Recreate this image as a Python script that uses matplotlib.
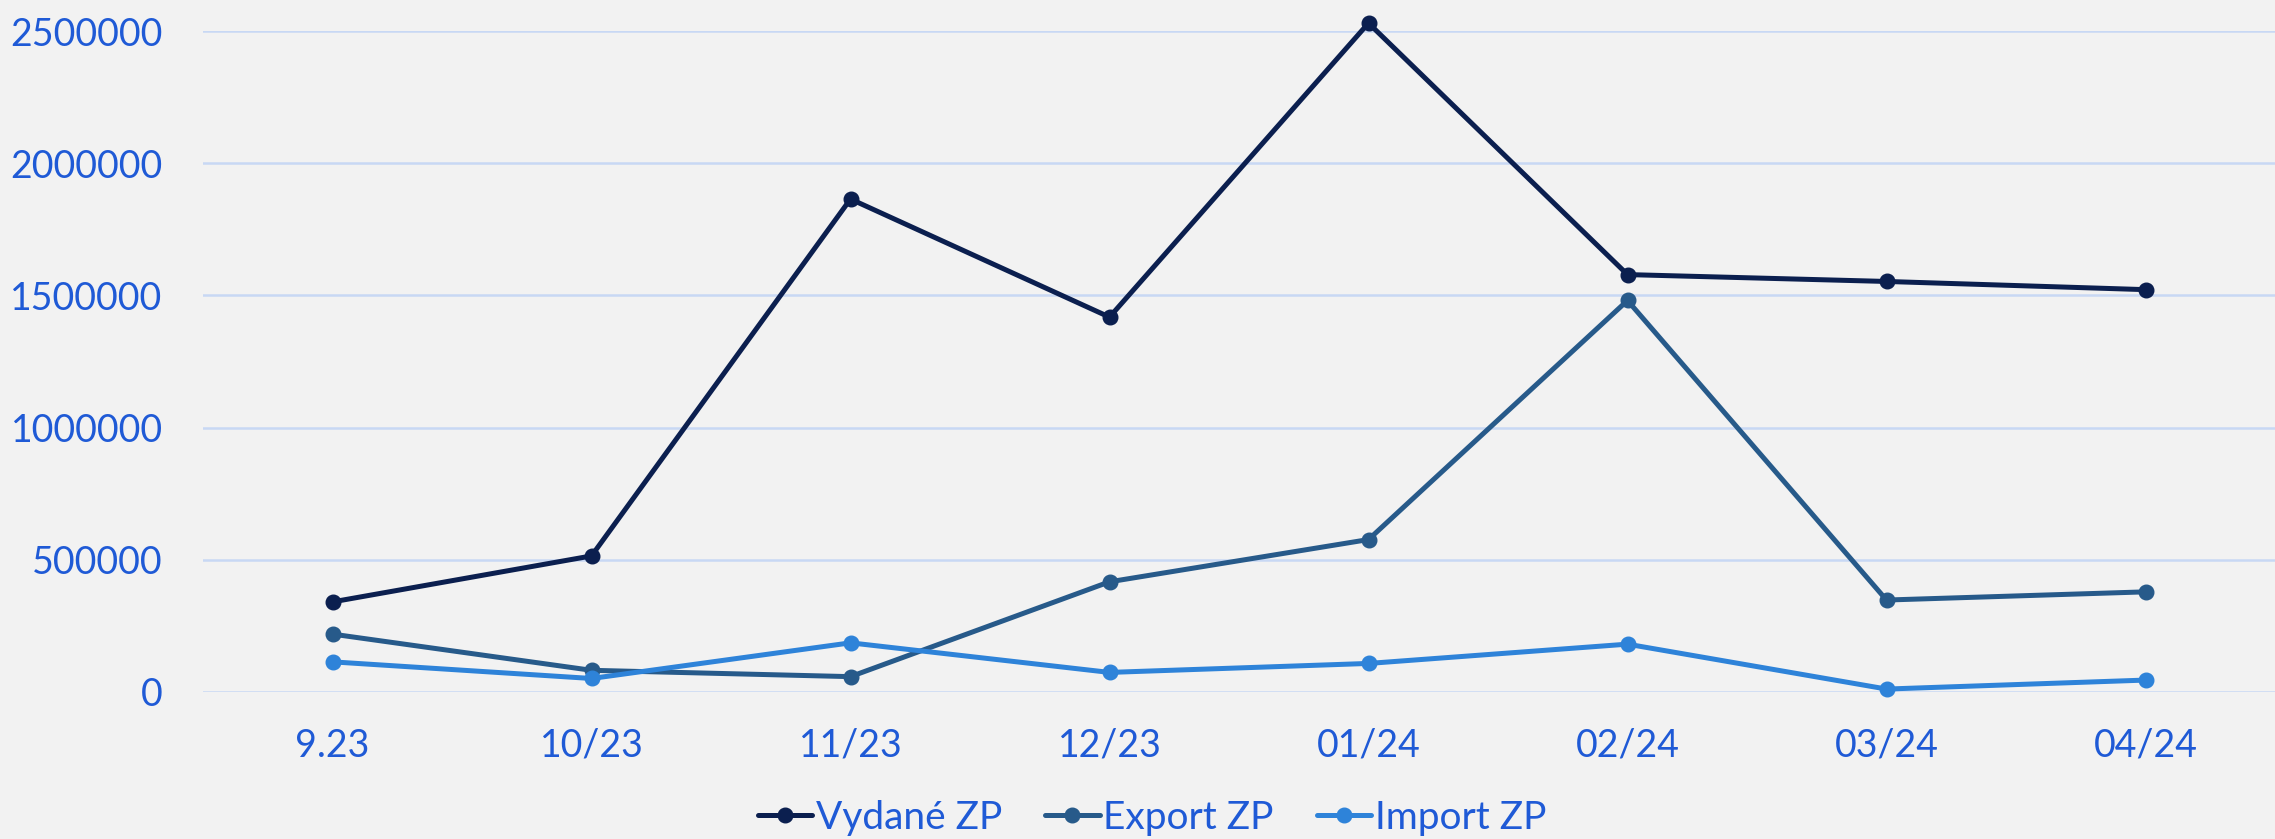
import numpy as np
import matplotlib
matplotlib.use('Agg')
import matplotlib.pyplot as plt

# values
months = ['9.23', '10/23', '11/23', '12/23', '01/24', '02/24', '03/24', '04/24']
vydane = [340000, 514000, 1865000, 1418000, 2531000, 1579000, 1553000, 1522000]
export = [218000, 81000, 57000, 416000, 576000, 1481000, 347000, 378000]
imports = [113000, 50000, 185000, 73000, 107000, 180000, 10000, 44000]

bg = '#F2F2F2'
label_col = '#1F5AD6'
plt.rcParams['font.family'] = ['Lato', 'DejaVu Sans']

fig = plt.figure(figsize=(22.75, 8.39), dpi=100, facecolor=bg)
ax = fig.add_axes([203 / 2275, 1 - 691.7 / 839, 1 - 203 / 2275, (691.7 - 31.3) / 839])
ax.set_facecolor(bg)

x = np.arange(len(months))
series = [
    (vydane, 'Vydané ZP', '#0B1F4F'),
    (export, 'Export ZP', '#275A8A'),
    (imports, 'Import ZP', '#2E83D9'),
]
for vals, name, col in series:
    ax.plot(x, vals, color=col, lw=3.6, marker='o', ms=10.5, label=name,
            clip_on=False, zorder=3, solid_capstyle='round')

ax.set_xlim(-0.5, len(months) - 0.5)
ax.set_ylim(0, 2500000)
ax.set_yticks(np.arange(0, 2500001, 500000))
ax.set_yticklabels([str(v) for v in range(0, 2500001, 500000)])
ax.set_xticks(x)
ax.set_xticklabels(months)

ax.grid(axis='y', color='#C8D8F4', lw=1.8)
ax.set_axisbelow(True)
for s in ax.spines.values():
    s.set_visible(False)
ax.tick_params(axis='both', length=0, labelsize=27, colors=label_col)
ax.tick_params(axis='y', pad=29)
ax.tick_params(axis='x', pad=26)

leg = fig.legend(loc='center', bbox_to_anchor=(1152 / 2275, 1 - 818 / 839), ncol=3,
                 frameon=False, fontsize=28, handlelength=1.4, handletextpad=0.1,
                 columnspacing=1.1, borderaxespad=0)
for t in leg.get_texts():
    t.set_color(label_col)

fig.savefig('out.png', dpi=100, facecolor=bg)
